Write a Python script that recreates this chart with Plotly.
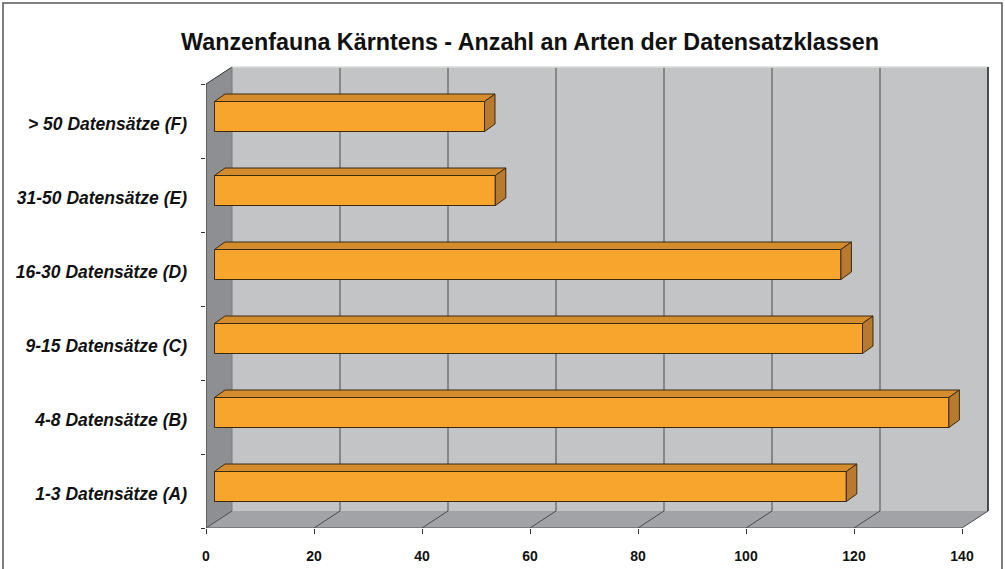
import plotly.graph_objects as go

# ---- data ----
categories = ["1-3 Datensätze (A)", "4-8 Datensätze (B)", "9-15 Datensätze (C)",
              "16-30 Datensätze (D)", "31-50 Datensätze (E)", "> 50 Datensätze (F)"]
values = [117, 136, 120, 116, 52, 50]
x_ticks = [0, 20, 40, 60, 80, 100, 120, 140]
title_text = "Wanzenfauna Kärntens - Anzahl an Arten der Datensatzklassen"

# ---- geometry (pixel-derived scales) ----
W, H = 1005, 569
PX_X = 5.4          # pixels per value unit
PX_Y = 74.0         # pixels per category
ML, MR, MT, MB = 206, 10, 55, 41
PW, PH = W - ML - MR, H - MT - MB
x_range = [0, PW / PX_X]
y_range = [0, PH / PX_Y]

XMAX = x_ticks[-1]
NCAT = len(categories)
D = 26 / PX_X        # depth offset of back wall (x)
E = 17 / PX_Y        # depth offset of back wall (y)
BASE = 8.5 / PX_X    # bar front face start
BH = 30 / PX_Y       # bar front face height
BSHIFT = 4.5 / PX_Y  # bar shifted upward by its depth position
DDX = 10.5 / PX_X    # bar depth x
DDY = 7.5 / PX_Y     # bar depth y
LABEL_SHIFT = 3 / PX_Y

front_col = "#F7A52C"
top_col = "#D58C2C"
side_col = "#B77A2E"
edge_col = "#3a2a12"
grid_col = "#4a4a4a"

shapes = []

def poly(pts, fill, line_col=None, lw=0):
    path = "M " + " L ".join(f"{x},{y}" for x, y in pts) + " Z"
    shapes.append(dict(type="path", xref="x", yref="y", path=path,
                       fillcolor=fill, line=dict(color=line_col or fill, width=lw),
                       layer="below"))

def seg(x0, y0, x1, y1, col=grid_col, w=1):
    shapes.append(dict(type="line", xref="x", yref="y", x0=x0, y0=y0, x1=x1, y1=y1,
                       line=dict(color=col, width=w), layer="below"))

# back wall
poly([(D, E), (XMAX + D, E), (XMAX + D, NCAT + E), (D, NCAT + E)], "#C3C4C6")
# left wall
poly([(0, 0), (D, E), (D, NCAT + E), (0, NCAT)], "#8E8F93")
# floor
poly([(0, 0), (XMAX, 0), (XMAX + D, E), (D, E)], "#A2A3A6")

# back wall gridlines
for t in x_ticks[1:]:
    seg(t + D, E, t + D, NCAT + E)
# floor gridlines
for t in x_ticks:
    seg(t, 0, t + D, E)
# edges
seg(D, NCAT + E, XMAX + D, NCAT + E, "#DADADA", 1.5)
seg(XMAX + D, E, XMAX + D, NCAT + E, "#333333", 1.5)
seg(0, NCAT, D, NCAT + E, "#333333", 1)
seg(0, 0, 0, NCAT, "#333333", 1)
seg(0, 0, XMAX, 0, "#555555", 1)
seg(D, E, D, NCAT + E, "#7a7a7e", 1)

# outer border (paper coords)
shapes.append(dict(type="rect", xref="paper", yref="paper",
                   x0=(3 - ML) / PW, x1=(1002 - ML) / PW,
                   y0=(H - MB - 575) / PH, y1=(H - MB - 3) / PH,
                   line=dict(color="#555555", width=1.5), layer="below"))

fig = go.Figure()

centers = [i + 0.5 + BSHIFT for i in range(NCAT)]

# front faces
fig.add_trace(go.Bar(
    y=centers, x=values, base=[BASE] * NCAT, orientation="h", width=BH,
    marker=dict(color=front_col, line=dict(color=edge_col, width=1)),
    hoverinfo="skip", showlegend=False))

# top and side faces
for c, v in zip(centers, values):
    yb, yt = c - BH / 2, c + BH / 2
    xe = BASE + v
    xs = [BASE, xe, xe + DDX, BASE + DDX, BASE]
    ys = [yt, yt, yt + DDY, yt + DDY, yt]
    fig.add_trace(go.Scatter(x=xs, y=ys, fill="toself", fillcolor=top_col, mode="lines",
                             line=dict(color=edge_col, width=1), hoverinfo="skip",
                             showlegend=False))
    xs = [xe, xe + DDX, xe + DDX, xe, xe]
    ys = [yt, yt + DDY, yb + DDY, yb, yt]
    fig.add_trace(go.Scatter(x=xs, y=ys, fill="toself", fillcolor=side_col, mode="lines",
                             line=dict(color=edge_col, width=1), hoverinfo="skip",
                             showlegend=False))

fig.update_layout(
    width=W, height=H,
    margin=dict(l=ML, r=MR, t=MT, b=MB, autoexpand=False),
    paper_bgcolor="white", plot_bgcolor="white",
    shapes=shapes,
    title=dict(text=title_text, x=530 / W, xanchor="center", xref="container",
               y=1 - 42 / H, yanchor="middle", yref="container",
               font=dict(family="Liberation Sans, Arial", size=23.3, color="#111111", weight="bold")),
    xaxis=dict(range=x_range, tickvals=x_ticks, ticktext=[str(t) for t in x_ticks],
               showgrid=False, zeroline=False, showline=False, automargin=False,
               ticks="outside", ticklen=5, tickcolor="#333333",
               ticklabelstandoff=10,
               tickfont=dict(family="Liberation Sans, Arial", size=14, color="#111111", weight="bold")),
    yaxis=dict(range=y_range, tickvals=[i + 0.5 - LABEL_SHIFT for i in range(NCAT)], ticktext=categories,
               showgrid=False, zeroline=False, showline=False, ticks="", automargin=False,
               ticklabelstandoff=18,
               minor=dict(tickvals=list(range(NCAT + 1)), ticks="outside", ticklen=4,
                          tickcolor="#333333", showgrid=False),
               tickfont=dict(family="Liberation Sans, Arial", size=17.5, color="#111111",
                             weight="bold", style="italic")),
)

fig.write_html("out.html", config={"displayModeBar": False},
               post_script="document.body.style.margin='0';document.body.style.overflow='hidden';")
